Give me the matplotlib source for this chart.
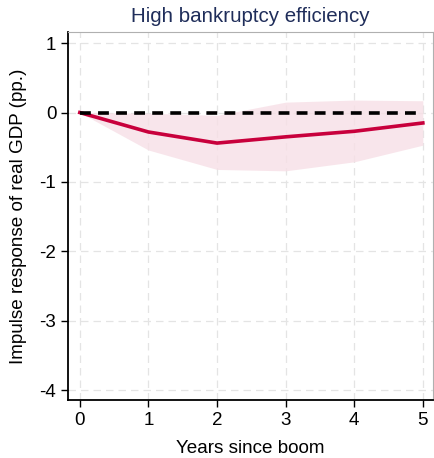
import matplotlib
matplotlib.use("Agg")
import matplotlib.pyplot as plt

years = [0, 1, 2, 3, 4, 5]
irf = [0.0, -0.28, -0.44, -0.35, -0.27, -0.15]
upper = [0.0, -0.01, -0.04, 0.15, 0.18, 0.17]
lower = [0.0, -0.54, -0.82, -0.84, -0.71, -0.47]
yticks = [1, 0, -1, -2, -3, -4]
xticks = [0, 1, 2, 3, 4, 5]

plt.rcParams['font.family'] = ['Liberation Sans', 'DejaVu Sans']
plt.rcParams['axes.unicode_minus'] = False

fig = plt.figure(figsize=(4.34, 4.58), dpi=100)
ax = fig.add_axes([0.157, 0.127, 0.841, 0.803])

ax.fill_between(years, lower, upper, color='#f7dfe6', alpha=0.8, linewidth=0, zorder=1)
ax.plot(years, irf, color='#c8003c', linewidth=2.6, zorder=3)
ax.axhline(0, color='black', linestyle=(0, (3, 2)), linewidth=2.6, zorder=4, xmin=0.032, xmax=0.968)

ax.set_xlim(-0.17, 5.15)
ax.set_ylim(-4.14, 1.16)
ax.set_xticks(xticks)
ax.set_yticks(yticks)
ax.grid(True, color='#e4e4e4', linestyle=(0, (6, 4)), linewidth=0.9, zorder=0)
ax.set_axisbelow(True)

for s in ['top', 'right']:
    ax.spines[s].set_color('#b0b0b0')
    ax.spines[s].set_linewidth(0.8)
for s in ['left', 'bottom']:
    ax.spines[s].set_color('black')
    ax.spines[s].set_linewidth(1.3)

ax.tick_params(axis='both', direction='out', length=5, width=1, labelsize=13.5, colors='black')
ax.tick_params(axis='x', pad=4)
ax.set_title('High bankruptcy efficiency', fontsize=14.8, color='#1f2d5a', pad=7)
ax.set_xlabel('Years since boom', fontsize=13.6, labelpad=8)
ax.set_ylabel('Impulse response of real GDP (pp.)', fontsize=13.6, labelpad=9)

fig.savefig('out.png', dpi=100)
